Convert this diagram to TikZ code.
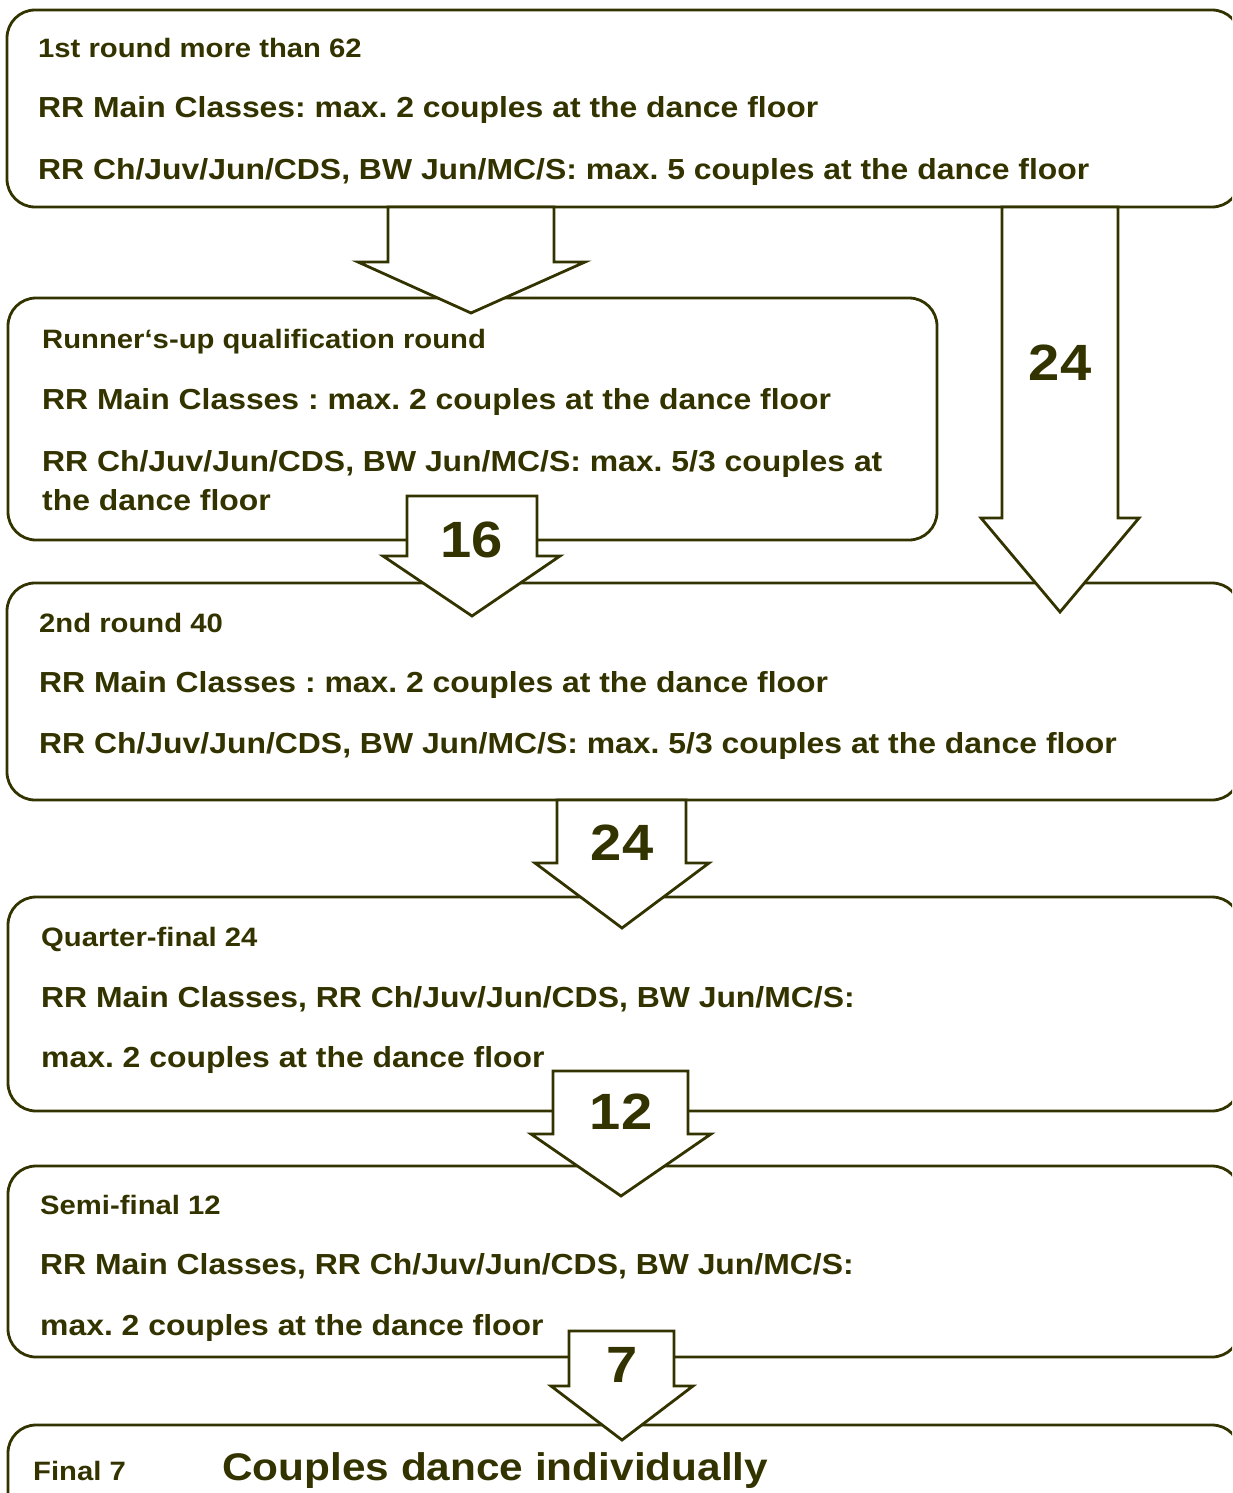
\documentclass[tikz,border=0pt]{standalone}
\usepackage{fontspec}
\setmainfont{Liberation Sans}[FakeStretch=1.1]
\usepackage{xcolor}
\usepackage{tikz}
\usetikzlibrary{positioning}
\definecolor{darkolive}{HTML}{333300}
\frenchspacing

\tikzset{
  roundbox/.style={draw=darkolive,line width=2.8pt,rounded corners=28pt,fill=white},
  blockarrow/.style={draw=darkolive,line width=2.8pt,fill=white,line join=miter},
  headline/.style={anchor=base west,inner sep=0pt,text=darkolive,font=\bfseries\fontsize{26.6}{30}\selectfont},
  rule/.style={anchor=base west,inner sep=0pt,text=darkolive,font=\bfseries\fontsize{29}{34}\selectfont},
  count/.style={inner sep=0pt,text=darkolive,font=\bfseries\fontsize{51}{51}\selectfont}
}

\begin{document}
\begin{tikzpicture}[x=1pt,y=-1pt]
  \clip (0,0) rectangle (1232,1493);
  \fill[white] (0,0) rectangle (1232,1493);
  % boxes
  \draw[roundbox] (7,10) rectangle (1240,207);
  \draw[roundbox] (8,298) rectangle (937,540);
  \draw[roundbox] (7,583) rectangle (1240,800);
  \draw[roundbox] (8,897) rectangle (1240,1111);
  \draw[roundbox] (8,1166) rectangle (1240,1357);
  \draw[roundbox] (8,1425) rectangle (1240,1540);
  % block arrows
  \draw[blockarrow] (388,207) -- (388,262) -- (358,262) -- (471,313) -- (585,262) -- (554,262) -- (554,207) -- cycle;
  \draw[blockarrow] (1002,207) -- (1002,518) -- (981,518) -- (1060,612) -- (1139,518) -- (1118,518) -- (1118,207) -- cycle;
  \draw[blockarrow] (407,496) -- (407,556) -- (383,556) -- (472,616) -- (560,556) -- (537,556) -- (537,496) -- cycle;
  \draw[blockarrow] (557,800) -- (557,863) -- (535,863) -- (622,928) -- (709,863) -- (686,863) -- (686,800) -- cycle;
  \draw[blockarrow] (553,1071) -- (553,1134) -- (531,1134) -- (621,1196) -- (711,1134) -- (688,1134) -- (688,1071) -- cycle;
  \draw[blockarrow] (569,1331) -- (569,1386) -- (551,1386) -- (622,1440) -- (693,1386) -- (674,1386) -- (674,1331) -- cycle;
  \node[count] (skip) at (1060,363) {24};
  \node[count] (runup) at (472,540) {16};
  \node[count] (second) at (622,843) {24};
  \node[count] (quarter) at (621,1112) {12};
  \node[count] (semi) at (622,1365) {7};
  % 1st round
  \node[headline] (r1-head) at (38,57.5) {1st round more than 62};
  \node[rule] (r1-main) at (38,117.4) {RR Main Classes: max. 2 couples at the dance floor};
  \node[rule] (r1-other) at (38,179.4) {RR Ch/Juv/Jun/CDS, BW Jun/MC/S: max. 5 couples at the dance floor};
  % runner's-up round
  \node[headline] (ru-head) at (42,348.5) {Runner‘s-up qualification round};
  \node[rule] (ru-main) at (42,409.4) {RR Main Classes : max. 2 couples at the dance floor};
  \node[rule] (ru-other) at (42,471.4) {RR Ch/Juv/Jun/CDS, BW Jun/MC/S: max. 5/3 couples at};
  \node[rule] (ru-other2) at (42,510.4) {the dance floor};
  % 2nd round
  \node[headline] (r2-head) at (39,632.5) {2nd round 40};
  \node[rule] (r2-main) at (39,692.4) {RR Main Classes : max. 2 couples at the dance floor};
  \node[rule] (r2-other) at (39,753.4) {RR Ch/Juv/Jun/CDS, BW Jun/MC/S: max. 5/3 couples at the dance floor};
  % quarter-final
  \node[headline] (qf-head) at (41,946.5) {Quarter-final 24};
  \node[rule] (qf-all) at (41,1007.4) {RR Main Classes, RR Ch/Juv/Jun/CDS, BW Jun/MC/S:};
  \node[rule] (qf-max) at (41,1067.4) {max. 2 couples at the dance floor};
  % semi-final
  \node[headline] (sf-head) at (40,1214.5) {Semi-final 12};
  \node[rule] (sf-all) at (40,1274.4) {RR Main Classes, RR Ch/Juv/Jun/CDS, BW Jun/MC/S:};
  \node[rule] (sf-max) at (40,1335.4) {max. 2 couples at the dance floor};
  % final
  \node[headline] (fin-head) at (33,1480.5) {Final 7};
  \node[rule,font=\bfseries\fontsize{38.5}{40}\selectfont] (fin-solo) at (222,1480) {Couples dance individually};
\end{tikzpicture}
\end{document}
